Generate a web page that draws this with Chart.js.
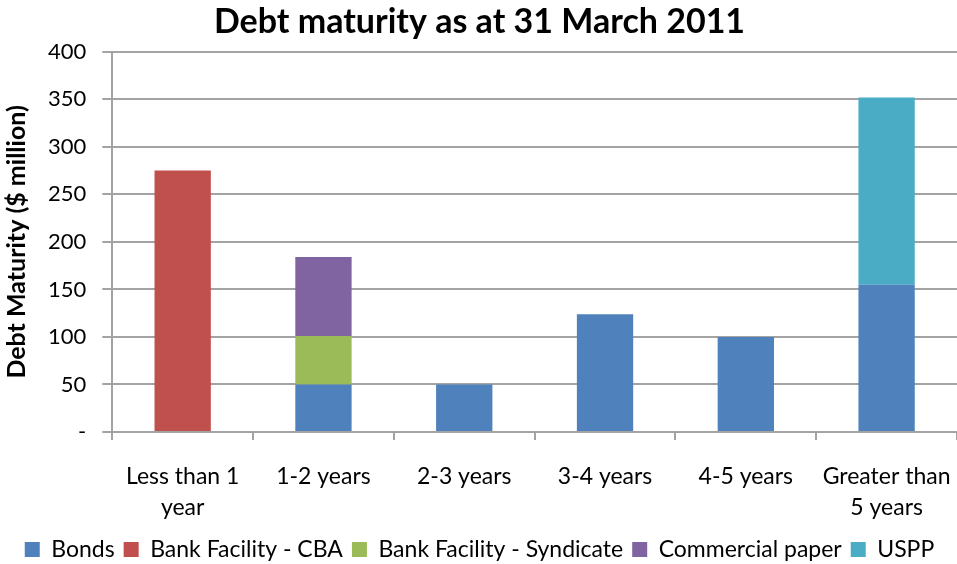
<!DOCTYPE html>
<html>
<head>
<meta charset="utf-8">
<script src="https://cdn.jsdelivr.net/npm/chart.js@4"></script>
<style>
    body { margin: 0; background: #fff; }
    #wrap { width: 957px; height: 564px; position: relative; }
</style>
</head>
<body>
<div id="wrap"><canvas id="debtMaturity"></canvas></div>
<script>
var categories = [['Less than 1', 'year'], '1-2 years', '2-3 years', '3-4 years', '4-5 years', ['Greater than', '5 years']];

var bonds       = [0, 50, 50, 124, 100, 155];
var bankCBA     = [275, 0, 0, 0, 0, 0];
var bankSynd    = [0, 51, 0, 0, 0, 0];
var commPaper   = [0, 83, 0, 0, 0, 0];
var uspp        = [0, 0, 0, 0, 0, 197];

var yTicks = [0, 50, 100, 150, 200, 250, 300, 350, 400];

var fontFamily = "Lato, 'Open Sans', sans-serif";
var gridGrey = '#a3a3a3';

function series(label, data, colour){
    return {
        label: label,
        data: data,
        backgroundColor: colour,
        borderWidth: 0,
        barPercentage: 0.8,
        categoryPercentage: 0.5
    };
}

var ctx = document.getElementById('debtMaturity').getContext('2d');

var debtChart = new Chart(ctx, {
    type: 'bar',
    data: {
        labels: categories,
        datasets: [
            series('Bonds', bonds, '#4F81BD'),
            series('Bank Facility - CBA', bankCBA, '#C0504D'),
            series('Bank Facility - Syndicate', bankSynd, '#9BBB59'),
            series('Commercial paper', commPaper, '#8064A2'),
            series('USPP', uspp, '#4BACC6')
        ]
    },
    options: {
        responsive: true,
        maintainAspectRatio: false,
        animation: false,
        layout: { padding: { top: 0, right: 0, left: 2, bottom: -7 } },
        plugins: {
            title: {
                display: true,
                text: 'Debt maturity as at 31 March 2011',
                color: '#000',
                font: { family: fontFamily, size: 34, weight: 'bold' },
                padding: { top: 2, bottom: 9 }
            },
            legend: {
                position: 'bottom',
                labels: {
                    color: '#000',
                    boxWidth: 15,
                    boxHeight: 15,
                    padding: 9,
                    font: { family: fontFamily, size: 23 }
                }
            },
            tooltip: { enabled: false }
        },
        scales: {
            x: {
                stacked: true,
                border: { color: gridGrey, width: 2 },
                grid: {
                    drawOnChartArea: false,
                    drawTicks: true,
                    tickLength: 8,
                    color: gridGrey,
                    lineWidth: 2
                },
                ticks: {
                    color: '#000',
                    padding: 21,
                    maxRotation: 0,
                    autoSkip: false,
                    font: { family: fontFamily, size: 23, lineHeight: 1.36 }
                },
                // plot runs to the right edge; outer labels fit inside their categories
                afterFit: function(axis){
                    axis.paddingLeft = 0;
                    axis.paddingRight = 0;
                    axis.height = 97;
                }
            },
            y: {
                stacked: true,
                min: 0,
                max: 400,
                afterBuildTicks: function(axis){
                    axis.ticks = yTicks.map(function(v){ return { value: v }; });
                },
                border: { color: gridGrey, width: 2 },
                grid: {
                    color: gridGrey,
                    lineWidth: 2,
                    tickLength: 10
                },
                ticks: {
                    color: '#000',
                    padding: 16,
                    font: { family: fontFamily, size: 22 },
                    callback: function(v){ return v === 0 ? '-' : v; }
                },
                title: {
                    display: true,
                    text: 'Debt Maturity ($ million)',
                    color: '#000',
                    font: { family: fontFamily, size: 25, weight: 'bold' },
                    padding: { top: 0, bottom: 0 }
                }
            }
        }
    }
});
</script>
</body>
</html>
